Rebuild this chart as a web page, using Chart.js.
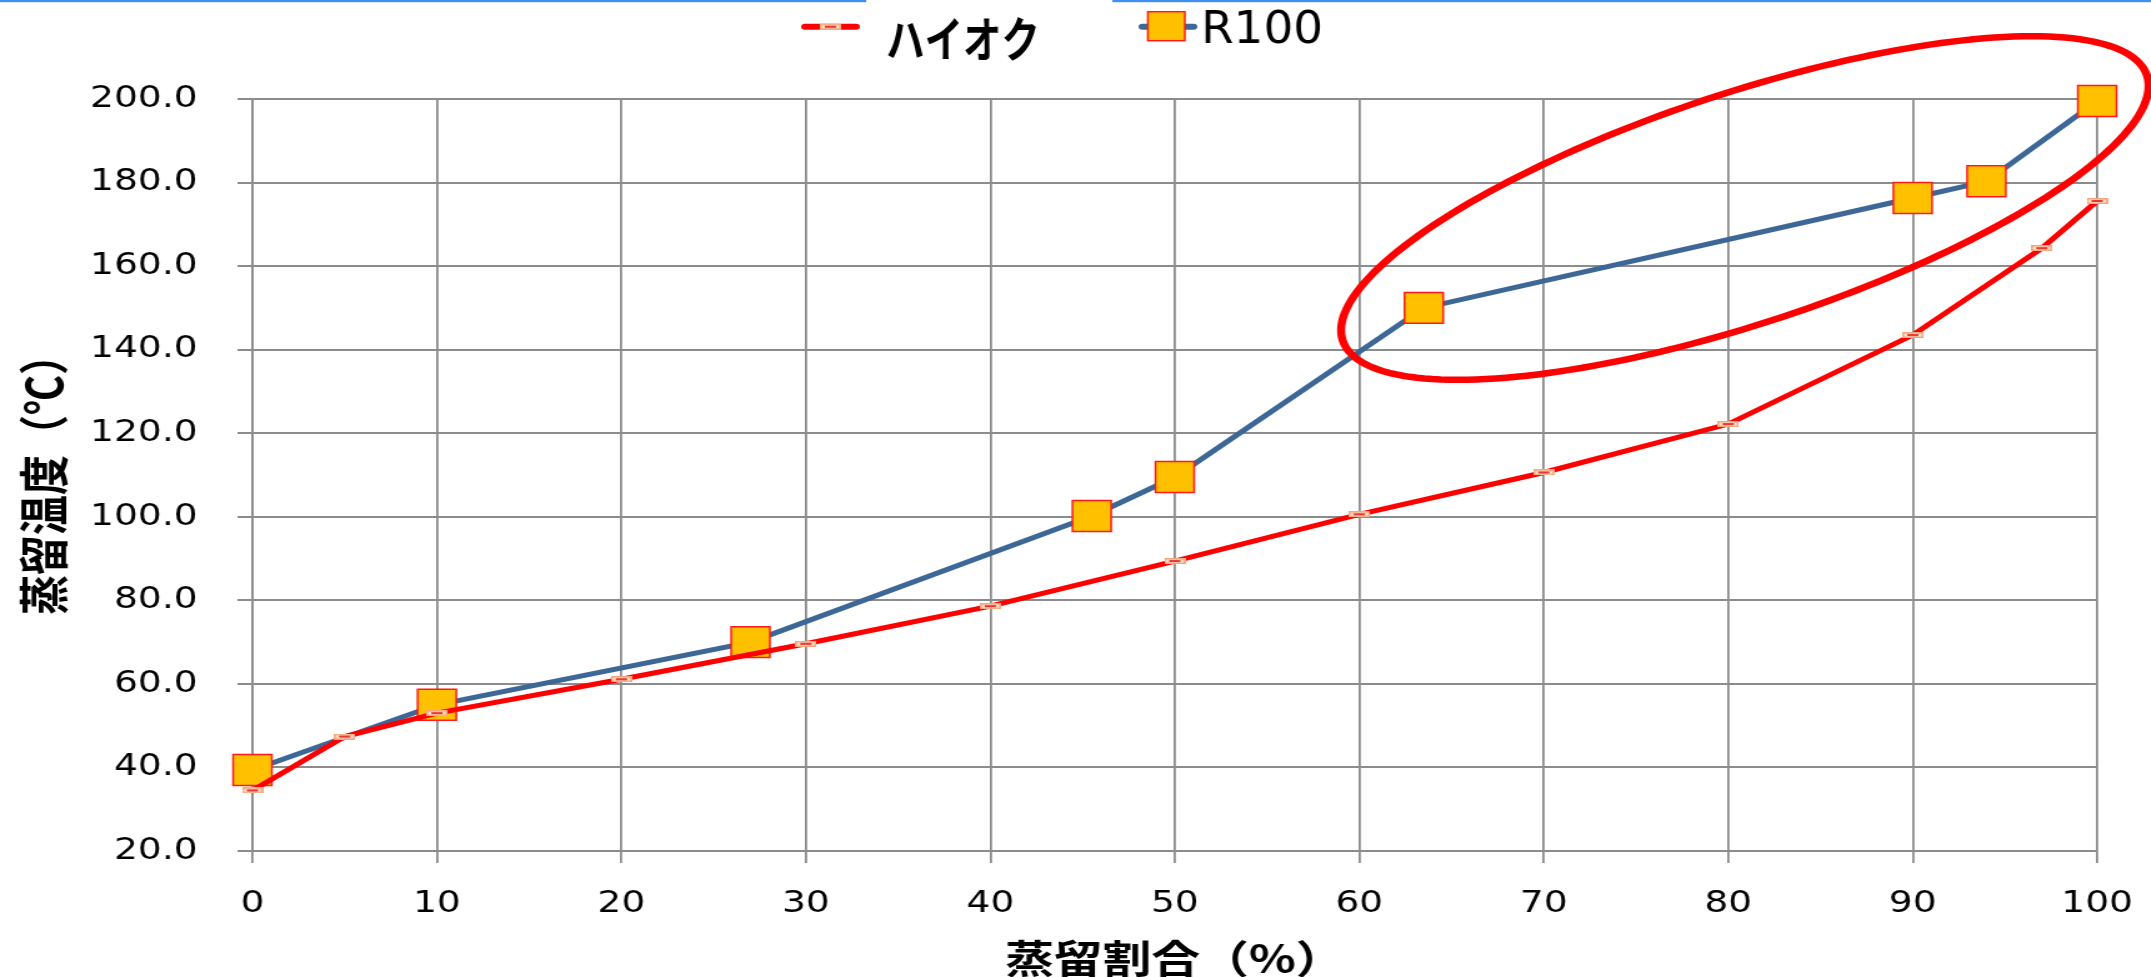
<!DOCTYPE html>
<html lang="ja">
<head>
<meta charset="utf-8">
<title>蒸留温度（ハイオク / R100）</title>
<script src="https://cdn.jsdelivr.net/npm/chart.js@4.4.1/dist/chart.umd.min.js"></script>
<style>
  html, body { margin: 0; padding: 0; background: #fff; overflow: hidden; }
  /* the chart is drawn on a narrower canvas and widened to the page width */
  #wrap { position: absolute; left: 0; top: 0; width: 1721px; height: 977px;
          transform: scaleX(1.2498); transform-origin: 0 0; }
  canvas { display: block; }
</style>
</head>
<body>
<div id="wrap"><canvas id="chart" width="1721" height="977"></canvas></div>
<script>
// ---- data -------------------------------------------------------------
const seriesNames = ['ハイオク', 'R100'];

// ハイオク: distilled fraction (%) and temperature (°C)
const highOctanePct  = [0, 5, 10, 20, 30, 40, 50, 60, 70, 80, 90, 97, 100];
const highOctaneTemp = [34.5, 47.4, 53.0, 61.1, 69.6, 78.6, 89.4, 100.6, 110.6, 122.2, 143.5, 164.3, 175.6];

// R100: distilled fraction (%) and temperature (°C)
const r100Pct  = [0, 10, 27, 45.5, 50, 63.5, 90, 94, 100];
const r100Temp = [39.4, 55.0, 70.0, 100.2, 109.5, 150.0, 176.3, 180.3, 199.5];

// axis ticks
const xTickValues = [0, 10, 20, 30, 40, 50, 60, 70, 80, 90, 100];
const yTickValues = [20, 40, 60, 80, 100, 120, 140, 160, 180, 200];

const xTitle = '蒸留割合（%）';
const yTitle = '蒸留温度（℃）';

// highlight ring around the upper R100 points, in data units:
// centre plus the two half-axis vectors
const ring = { cx: 80.9, cy: 173.9, ux: 21.8, uy: 31.7, vx: 1.95, vy: -26.2 };

// ---- styling ------------------------------------------------------------
const GRID = '#8c8c8c';
const RED = '#ff0000';
const BLUE = '#3d6796';
const GOLD = '#ffc000';

// small "dash" marker used for the ハイオク points
function makeDashMarker() {
  const c = document.createElement('canvas');
  c.width = 17; c.height = 6;
  const g = c.getContext('2d');
  g.fillStyle = '#fde3d3';
  g.fillRect(0, 0, 17, 6);
  g.strokeStyle = '#f5a67c';
  g.lineWidth = 1.5;
  g.strokeRect(0.75, 0.75, 15.5, 4.5);
  g.strokeStyle = '#e00000';
  g.beginPath(); g.moveTo(4, 3); g.lineTo(13, 3); g.stroke();
  return c;
}
const dashMarker = makeDashMarker();

const toPoints = (xs, ys) => xs.map((x, i) => ({ x, y: ys[i] }));

// legend, top rule and highlight ring
const decor = {
  id: 'decor',
  afterDraw(chart) {
    const ctx = chart.ctx;
    const xs = chart.scales.x, ys = chart.scales.y;
    const ds = chart.data.datasets;

    // ring
    ctx.save();
    ctx.beginPath();
    for (let i = 0; i <= 200; i++) {
      const t = i / 200 * Math.PI * 2;
      const vx = ring.cx + ring.ux * Math.cos(t) + ring.vx * Math.sin(t);
      const vy = ring.cy + ring.uy * Math.cos(t) + ring.vy * Math.sin(t);
      const px = xs.getPixelForValue(vx), py = ys.getPixelForValue(vy);
      if (i === 0) ctx.moveTo(px, py); else ctx.lineTo(px, py);
    }
    ctx.closePath();
    ctx.strokeStyle = RED;
    ctx.lineWidth = 6.5;
    ctx.stroke();
    ctx.restore();

    // thin rule along the top edge
    ctx.save();
    ctx.fillStyle = '#3f8ef0';
    ctx.fillRect(0, 0, 693, 2.2);
    ctx.fillRect(890, 0, 831, 2.2);
    ctx.restore();

    // legend entry 1: red line with dash marker
    const ly = 26.7;
    ctx.save();
    ctx.lineCap = 'round';
    ctx.lineWidth = 6;
    ctx.strokeStyle = ds[0].borderColor;
    ctx.beginPath(); ctx.moveTo(644, ly); ctx.lineTo(685, ly); ctx.stroke();
    ctx.drawImage(dashMarker, 656, ly - 3, 17, 6);
    drawFitted(ctx, ds[0].label, 709, 38.5, 123, 'bold 48px "Noto Sans CJK JP"', 'middle');

    // legend entry 2: blue line with gold square
    ctx.strokeStyle = ds[1].borderColor;
    ctx.beginPath(); ctx.moveTo(914, ly); ctx.lineTo(955, ly); ctx.stroke();
    ctx.fillStyle = GOLD;
    ctx.fillRect(918.4, 11.7, 29.6, 29);
    ctx.strokeStyle = '#ff1a1a';
    ctx.lineWidth = 1.5;
    ctx.strokeRect(918.4, 11.7, 29.6, 29);
    drawFitted(ctx, ds[1].label, 961, 42.7, 97.6, '45px "DejaVu Sans"', 'alphabetic');
    ctx.restore();
  }
};

function drawFitted(ctx, text, left, y, width, font, baseline) {
  ctx.save();
  ctx.font = font;
  ctx.textBaseline = baseline;
  ctx.textAlign = 'left';
  ctx.fillStyle = '#000';
  const w = ctx.measureText(text).width;
  ctx.translate(left, y);
  ctx.scale(width / w, 1);
  ctx.fillText(text, 0, 0);
  ctx.restore();
}

// ---- chart ----------------------------------------------------------------
new Chart(document.getElementById('chart'), {
  type: 'line',
  data: {
    datasets: [
      {
        label: seriesNames[0],
        data: toPoints(highOctanePct, highOctaneTemp),
        borderColor: RED,
        backgroundColor: RED,
        borderWidth: 5,
        tension: 0,
        fill: false,
        clip: false,
        pointStyle: dashMarker,
        pointRadius: 8,
        pointHoverRadius: 8
      },
      {
        label: seriesNames[1],
        data: toPoints(r100Pct, r100Temp),
        borderColor: BLUE,
        backgroundColor: GOLD,
        borderWidth: 5,
        tension: 0,
        fill: false,
        clip: false,
        pointStyle: 'rect',
        pointRadius: 21.9,
        pointHoverRadius: 21.9,
        pointBackgroundColor: GOLD,
        pointBorderColor: '#ff1a1a',
        pointBorderWidth: 1.5
      }
    ]
  },
  options: {
    responsive: false,
    animation: false,
    devicePixelRatio: 1,
    events: [],
    layout: { padding: { top: 99, right: 43, bottom: 0, left: 0 } },
    plugins: { legend: { display: false }, tooltip: { enabled: false } },
    scales: {
      x: {
        type: 'linear',
        min: 0, max: 100,
        afterFit(s) { s.height = 126; },
        afterBuildTicks(s) { s.ticks = xTickValues.map(v => ({ value: v })); },
        ticks: {
          font: { family: 'DejaVu Sans', size: 30, lineHeight: 1.8 },
          color: '#000',
          padding: 14,
          maxRotation: 0,
          autoSkip: false,
          callback: v => String(v)
        },
        grid: { color: GRID, lineWidth: 1.8, tickLength: 12 },
        border: { color: GRID, width: 2 },
        title: {
          display: true,
          text: xTitle,
          color: '#000',
          font: { family: 'Noto Sans CJK JP', size: 39, weight: 'bold', lineHeight: 0.95 },
          padding: { top: 0, bottom: 0 }
        }
      },
      y: {
        type: 'linear',
        min: 20, max: 200,
        afterFit(s) { s.width = 202; },
        afterBuildTicks(s) { s.ticks = yTickValues.map(v => ({ value: v })); },
        ticks: {
          font: { family: 'DejaVu Sans', size: 30 },
          color: '#000',
          padding: 32,
          autoSkip: false,
          callback: v => Number(v).toFixed(1)
        },
        grid: { color: GRID, lineWidth: 2, tickLength: 12 },
        border: { color: GRID, width: 1.8 },
        title: {
          display: true,
          text: yTitle,
          color: '#000',
          font: { family: 'Noto Sans CJK JP', size: 40, weight: 'bold', lineHeight: 1 },
          padding: { top: 15, bottom: 0 }
        }
      }
    }
  },
  plugins: [decor]
});
</script>
</body>
</html>
